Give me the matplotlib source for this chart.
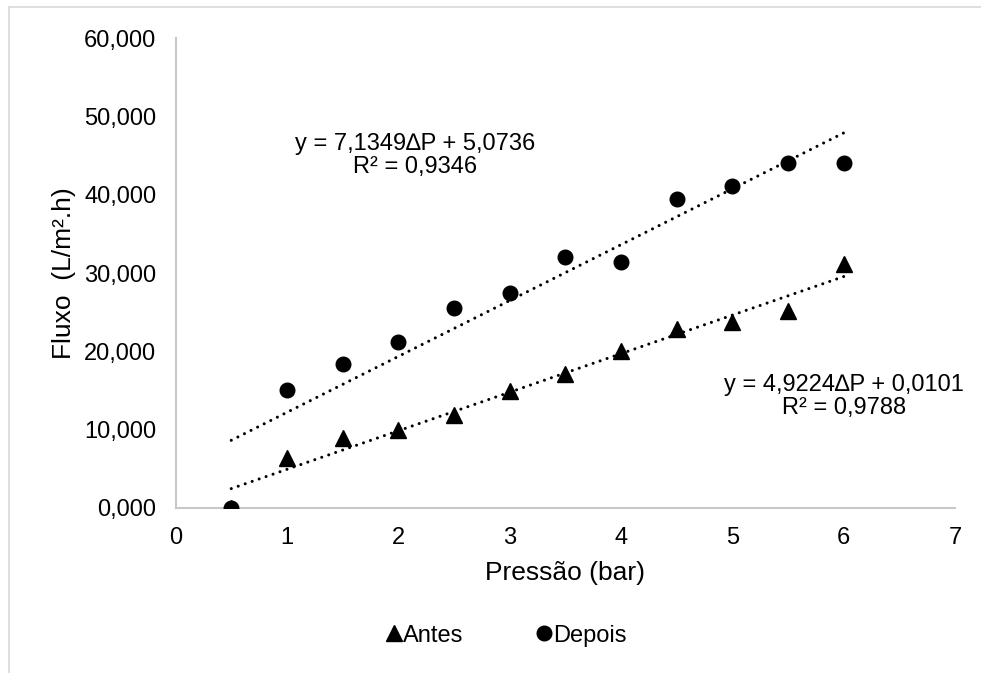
import matplotlib.pyplot as plt
from matplotlib.lines import Line2D
from matplotlib.ticker import FuncFormatter

# Pressure (bar) and flux (L/m².h)
pressao = [0.5, 1.0, 1.5, 2.0, 2.5, 3.0, 3.5, 4.0, 4.5, 5.0, 5.5, 6.0]
antes = [0.0, 6.4, 8.9, 10.0, 11.9, 14.9, 17.1, 20.1, 22.8, 23.7, 25.2, 31.2]
depois = [0.0, 15.0, 18.4, 21.2, 25.5, 27.4, 32.0, 31.4, 39.5, 41.1, 44.0, 44.0]

# Trendline coefficients shown on the chart (slope, intercept, R²)
fit_antes = (4.9224, 0.0101, 0.9788)
fit_depois = (7.1349, 5.0736, 0.9346)

x_ticks = [0, 1, 2, 3, 4, 5, 6, 7]
y_ticks = [0, 10, 20, 30, 40, 50, 60]


def br(v, nd):
    return f"{v:.{nd}f}".replace(".", ",")


def main() -> None:
    plt.rcParams["font.family"] = ["Liberation Sans", "DejaVu Sans"]
    fig = plt.figure(figsize=(9.81, 6.73), dpi=100)
    ax = fig.add_axes([0.179, 0.2452, 0.7945, 0.6983])

    xs = [pressao[0], pressao[-1]]
    for slope, icpt, _ in (fit_antes, fit_depois):
        ax.plot(xs, [slope * x + icpt for x in xs], color="black", lw=2.2,
                linestyle=(0, (0.01, 2.4)), dash_capstyle="round", zorder=2)

    ax.plot(pressao, antes, linestyle="none", marker="^", ms=11, color="black", zorder=3)
    ax.plot(pressao, depois, linestyle="none", marker="o", ms=10.5, color="black", zorder=3)

    ax.text(2.15, 45.0, f"y = {br(fit_depois[0], 4)}∆P + {br(fit_depois[1], 4)}\n"
            f"R² = {br(fit_depois[2], 4)}", ha="center", va="center",
            fontsize=17, linespacing=1.05)
    ax.text(6.0, 14.2, f"y = {br(fit_antes[0], 4)}∆P + {br(fit_antes[1], 4)}\n"
            f"R² = {br(fit_antes[2], 4)}", ha="center", va="center",
            fontsize=17, linespacing=1.05, clip_on=False)

    ax.set_xlim(0, 7)
    ax.set_ylim(0, 60)
    ax.set_xticks(x_ticks)
    ax.set_yticks(y_ticks)
    ax.yaxis.set_major_formatter(FuncFormatter(lambda v, _: br(v, 3)))
    ax.tick_params(length=0, labelsize=17, pad=14)
    for side in ("top", "right"):
        ax.spines[side].set_visible(False)
    for side in ("left", "bottom"):
        ax.spines[side].set_color("#c8c8c8")
        ax.spines[side].set_linewidth(1.5)
    ax.set_xlabel("Pressão (bar)", fontsize=19, labelpad=8)
    ax.set_ylabel("Fluxo  (L/m².h)", fontsize=19, labelpad=6)

    handles = [
        Line2D([], [], linestyle="none", marker="^", ms=11, color="black", label="Antes"),
        Line2D([], [], linestyle="none", marker="o", ms=10.5, color="black", label="Depois"),
    ]
    fig.legend(handles=handles, loc="center", bbox_to_anchor=(0.514, 0.0555), ncol=2,
               frameon=False, fontsize=17, handletextpad=-0.1, columnspacing=2.9,
               handlelength=1.0)

    # light chart-area border (top and left edges visible in the reference)
    fig.add_artist(Line2D([0.0092, 1.0], [0.9896, 0.9896], color="#d9d9d9", lw=1.2))
    fig.add_artist(Line2D([0.0092, 0.0092], [0.0, 0.9896], color="#d9d9d9", lw=1.2))

    fig.savefig("out.png", dpi=100)
    plt.close(fig)


if __name__ == "__main__":
    main()
